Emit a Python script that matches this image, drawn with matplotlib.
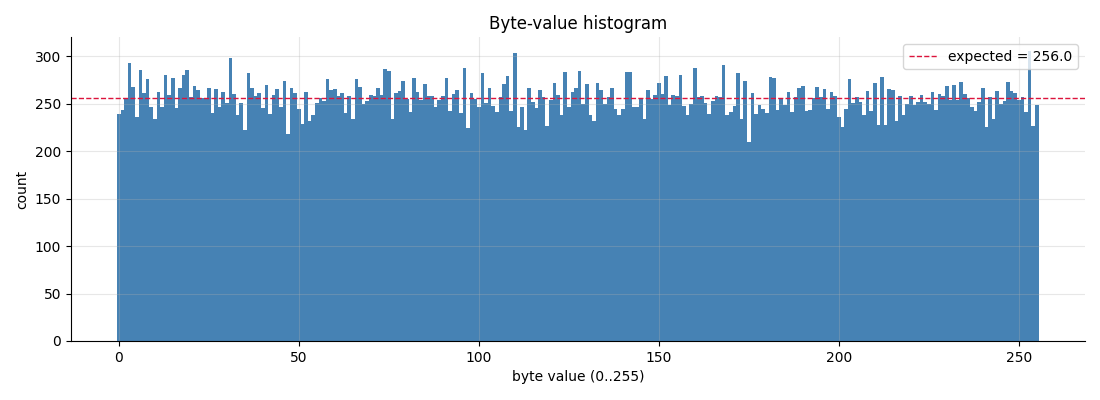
import numpy as np
import matplotlib
matplotlib.use("Agg")
import matplotlib.pyplot as plt

byte_values = list(range(256))
counts = [
    239, 243, 256, 293, 268, 236, 285, 261, 276, 246, 234, 262, 246, 280, 259, 277,
    245, 267, 280, 285, 257, 269, 264, 256, 256, 266, 240, 265, 247, 262, 251, 298,
    260, 238, 251, 222, 282, 267, 258, 261, 245, 270, 239, 259, 265, 246, 274, 218,
    267, 261, 244, 229, 262, 232, 238, 251, 256, 253, 276, 264, 265, 258, 261, 240,
    258, 234, 276, 268, 250, 253, 259, 258, 267, 259, 287, 284, 234, 261, 263, 274,
    255, 241, 277, 262, 254, 271, 258, 258, 247, 254, 258, 277, 242, 260, 264, 240,
    288, 224, 261, 255, 246, 282, 251, 266, 248, 241, 257, 271, 279, 242, 303, 225,
    247, 222, 266, 252, 245, 264, 257, 227, 254, 272, 259, 238, 283, 247, 262, 266,
    284, 250, 271, 238, 232, 272, 264, 250, 257, 267, 244, 238, 244, 283, 283, 247,
    246, 255, 234, 264, 255, 259, 272, 260, 279, 249, 259, 258, 280, 248, 238, 250,
    288, 257, 258, 251, 239, 253, 258, 257, 291, 238, 241, 248, 282, 234, 274, 210,
    261, 239, 249, 244, 240, 278, 277, 243, 255, 249, 262, 241, 257, 267, 269, 242,
    243, 256, 268, 257, 265, 244, 262, 258, 236, 225, 244, 276, 251, 257, 252, 238,
    263, 242, 272, 228, 278, 228, 265, 264, 232, 258, 238, 250, 258, 249, 252, 259,
    252, 250, 262, 243, 260, 258, 269, 254, 270, 254, 273, 260, 256, 246, 242, 252,
    266, 225, 257, 234, 263, 250, 253, 273, 263, 261, 254, 257, 241, 305, 227, 249,
]
expected = 256.0

fig = plt.figure(figsize=(11, 4), dpi=100)
ax = fig.add_axes([0.0645, 0.1475, 0.9215, 0.76])

ax.hist(byte_values, bins=np.arange(257) - 0.5, weights=counts, color="#4682b4")
ax.axhline(expected, color="crimson", linestyle="--", linewidth=1,
           label=f"expected = {expected}")

ax.set_title("Byte-value histogram")
ax.set_xlabel("byte value (0..255)")
ax.set_ylabel("count")
ax.grid(True, alpha=0.3)
ax.spines["top"].set_visible(False)
ax.spines["right"].set_visible(False)
ax.legend(loc="upper right")

fig.savefig("out.png", dpi=100)
